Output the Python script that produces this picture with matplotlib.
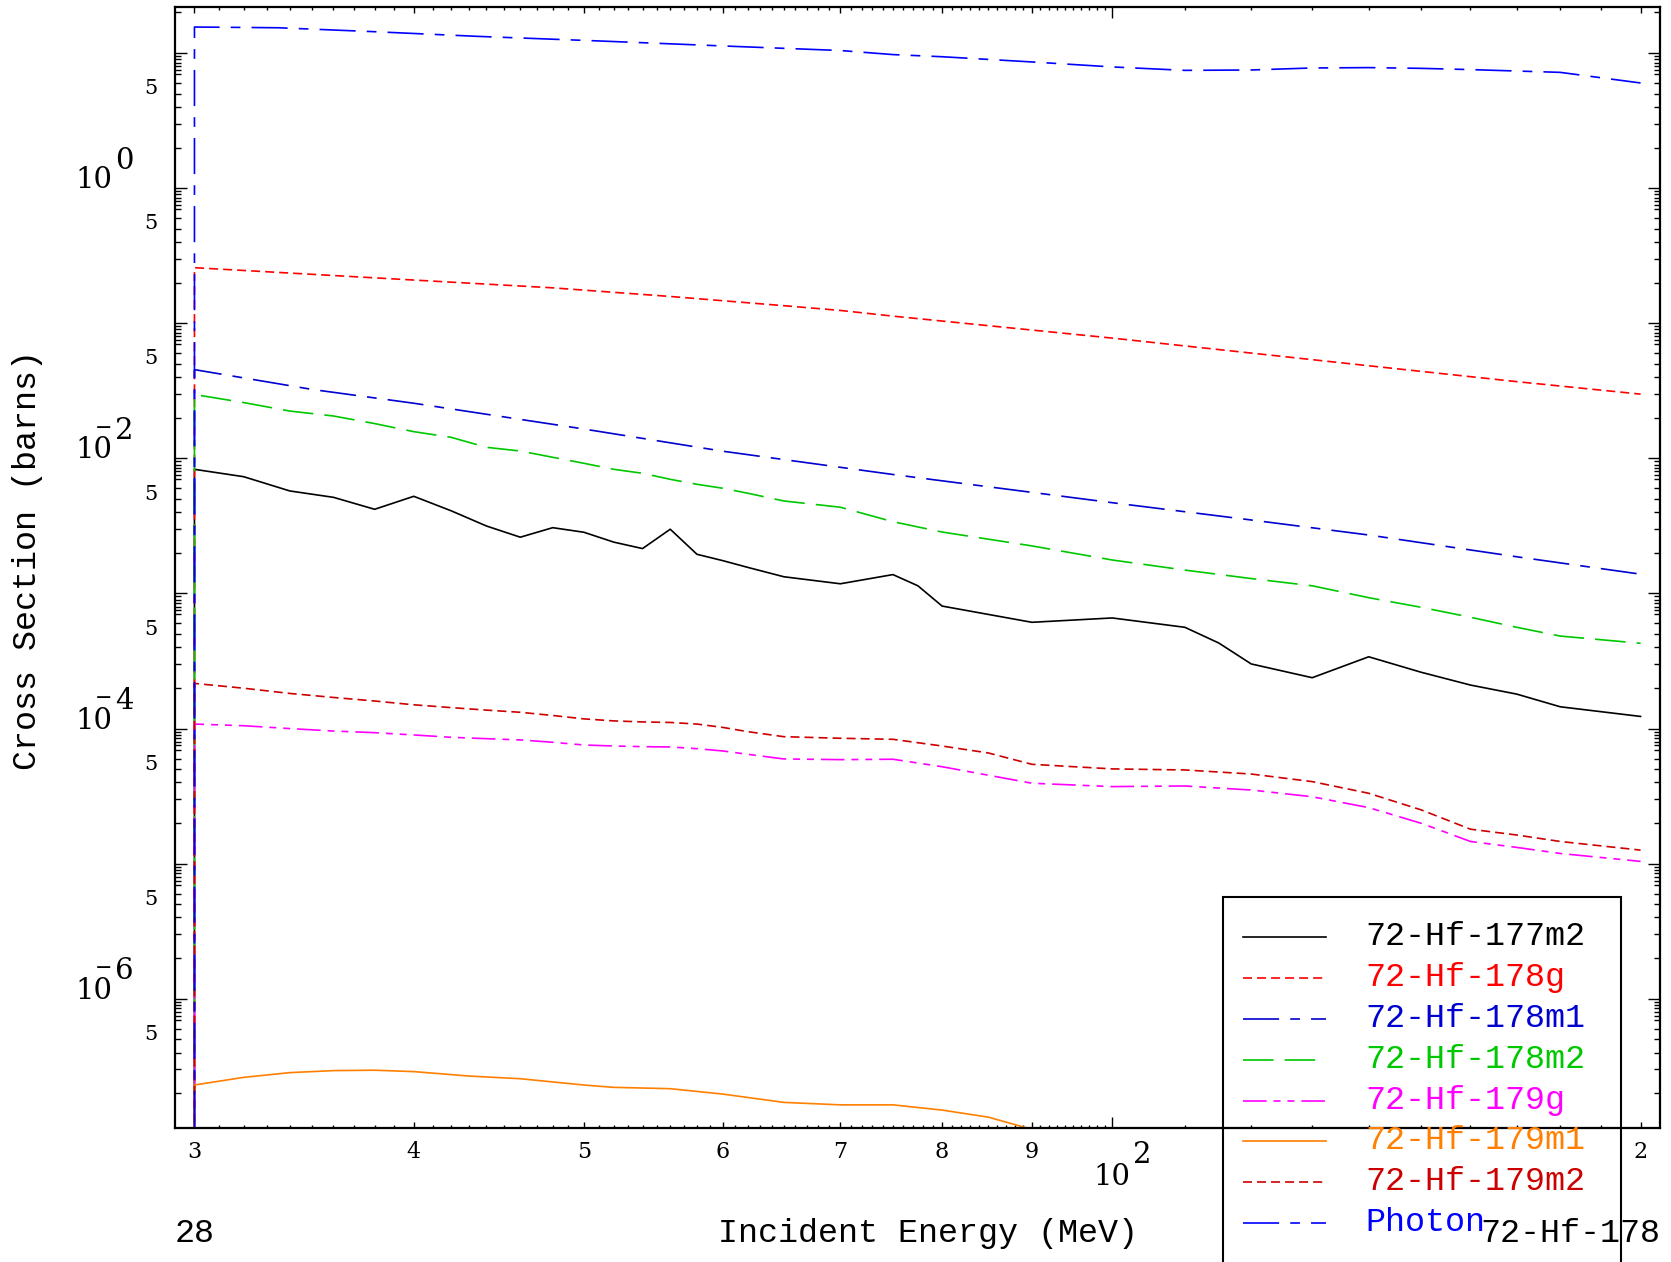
import matplotlib
matplotlib.use('Agg')
import matplotlib.pyplot as plt
from matplotlib.lines import Line2D
from matplotlib.patches import Rectangle
from matplotlib.ticker import FixedLocator, NullFormatter

W, H = 1671, 1262
plt.rcParams['lines.scale_dashes'] = False

MONO = 'Liberation Mono'
SERIF = 'DejaVu Serif'

# ---- data (incident energy in MeV, cross section in barns) ----
THRESHOLD_E = 30.0
FLOOR = 1e-12   # value below the threshold, draws the vertical drop at 30 MeV

e_177m2 = [30, 32, 34, 36, 38, 40, 42, 44, 46, 48, 50, 52, 54, 56, 58, 60, 62, 65, 70, 75, 77.5,
           80, 90, 100, 110, 115, 120, 130, 140, 150, 160, 170, 180, 200]
s_177m2 = [8.30e-3, 7.32e-3, 5.74e-3, 5.15e-3, 4.20e-3, 5.24e-3, 4.10e-3, 3.16e-3, 2.61e-3, 3.07e-3,
           2.84e-3, 2.40e-3, 2.15e-3, 2.99e-3, 1.95e-3, 1.75e-3, 1.56e-3, 1.33e-3, 1.18e-3, 1.38e-3,
           1.14e-3, 8.07e-4, 6.12e-4, 6.59e-4, 5.62e-4, 4.30e-4, 3.01e-4, 2.38e-4, 3.40e-4, 2.61e-4,
           2.10e-4, 1.80e-4, 1.45e-4, 1.23e-4]

e_178g = [30, 40, 48, 56, 65, 70, 75, 100, 120, 140, 170, 200]
s_178g = [0.258, 0.209, 0.183, 0.158, 0.135, 0.1245, 0.113, 0.0777, 0.0602, 0.0485, 0.0370, 0.0299]

e_178m1 = [30, 35, 40, 50, 60, 75, 100, 120, 140, 170, 200]
s_178m1 = [0.0454, 0.0324, 0.0256, 0.0165, 0.0113, 7.6e-3, 4.70e-3, 3.50e-3, 2.71e-3, 1.87e-3, 1.39e-3]

e_178m2 = [30, 32, 34, 36, 38, 40, 42, 44, 46, 48, 50, 52, 54, 56, 58, 60, 62, 65, 70, 75,
           80, 90, 100, 110, 120, 130, 140, 150, 160, 170, 180, 200]
s_178m2 = [0.0297, 0.0259, 0.0224, 0.0206, 0.0181, 0.01577, 0.01433, 0.01208, 0.01134, 0.01019,
           9.20e-3, 8.30e-3, 7.76e-3, 7.00e-3, 6.43e-3, 6.01e-3, 5.52e-3, 4.84e-3, 4.35e-3, 3.40e-3,
           2.85e-3, 2.25e-3, 1.77e-3, 1.49e-3, 1.29e-3, 1.14e-3, 9.31e-4, 7.90e-4, 6.67e-4, 5.62e-4,
           4.84e-4, 4.28e-4]

e_179g = [30, 32, 34, 36, 38, 40, 42, 44, 46, 48, 50, 52, 54, 56, 58, 60, 62, 65, 70, 75,
          80, 90, 100, 110, 120, 130, 140, 150, 160, 170, 180, 200]
s_179g = [1.08e-4, 1.05e-4, 1.00e-4, 9.59e-5, 9.33e-5, 8.97e-5, 8.62e-5, 8.42e-5, 8.24e-5, 7.92e-5,
          7.56e-5, 7.43e-5, 7.35e-5, 7.31e-5, 7.10e-5, 6.83e-5, 6.45e-5, 5.96e-5, 5.89e-5, 5.93e-5,
          5.22e-5, 3.94e-5, 3.72e-5, 3.76e-5, 3.51e-5, 3.13e-5, 2.60e-5, 1.99e-5, 1.46e-5, 1.32e-5,
          1.19e-5, 1.04e-5]

e_179m1 = [30, 32, 34, 36, 38, 40, 43, 46, 50, 52, 56, 60, 65, 70, 75, 80, 85, 90, 100]
s_179m1 = [2.30e-7, 2.62e-7, 2.84e-7, 2.94e-7, 2.96e-7, 2.89e-7, 2.68e-7, 2.56e-7, 2.30e-7, 2.21e-7,
           2.16e-7, 1.97e-7, 1.71e-7, 1.64e-7, 1.64e-7, 1.50e-7, 1.33e-7, 1.08e-7, 7.0e-8]

e_179m2 = [30, 32, 34, 36, 38, 40, 42, 44, 46, 48, 50, 52, 54, 56, 58, 60, 62, 65, 70, 75,
           80, 85, 90, 100, 110, 120, 130, 140, 150, 160, 170, 180, 200]
s_179m2 = [2.16e-4, 1.99e-4, 1.82e-4, 1.70e-4, 1.60e-4, 1.50e-4, 1.43e-4, 1.37e-4, 1.32e-4, 1.25e-4,
           1.18e-4, 1.14e-4, 1.12e-4, 1.11e-4, 1.08e-4, 1.02e-4, 9.49e-5, 8.71e-5, 8.48e-5, 8.33e-5,
           7.43e-5, 6.6e-5, 5.44e-5, 5.03e-5, 4.94e-5, 4.61e-5, 4.05e-5, 3.32e-5, 2.50e-5, 1.80e-5,
           1.63e-5, 1.46e-5, 1.26e-5]

e_photon = [30, 33.5, 38, 43.5, 51, 61, 70, 75, 80, 90, 100, 110, 120, 130, 140, 150, 160, 180, 200]
s_photon = [15.6, 15.4, 14.4, 13.3, 12.3, 11.2, 10.45, 9.75, 9.4, 8.6, 7.9, 7.45, 7.50, 7.76, 7.81,
            7.71, 7.55, 7.20, 6.01]

labels = ['72-Hf-177m2', '72-Hf-178g', '72-Hf-178m1', '72-Hf-178m2',
          '72-Hf-179g', '72-Hf-179m1', '72-Hf-179m2', 'Photon']
energies = [e_177m2, e_178g, e_178m1, e_178m2, e_179g, e_179m1, e_179m2, e_photon]
sigmas = [s_177m2, s_178g, s_178m1, s_178m2, s_179g, s_179m1, s_179m2, s_photon]

x_digit_ticks = [30, 40, 50, 60, 70, 80, 90, 200]
x_digit_labels = ['3', '4', '5', '6', '7', '8', '9', '2']
y_labeled_decades = [0, -2, -4, -6]

# ---- styles ----
colors = ['#000000', '#FF0000', '#0000D0', '#00C800', '#FF00FF', '#FF8000', '#CC0000', '#0000FF']
dash_short = (0, (6.5, 3.6))
dash_dot = (0, (26, 8, 7, 8))
dash_long = (0, (22, 8))
dash_dot_dot = (0, (17, 5, 5, 5, 5, 5))
styles = ['-', dash_short, dash_dot, dash_long, dash_dot_dot, '-', dash_short, dash_dot]
LW = 1.2

fig = plt.figure(figsize=(W / 100, H / 100), dpi=100)
left, right, top, bottom = 174.8, 1660.0, 7.0, 1127.7
ax = fig.add_axes([left / W, 1 - bottom / H, (right - left) / W, (bottom - top) / H])

for e, s, c, st in zip(energies, sigmas, colors, styles):
    ax.plot([THRESHOLD_E] + e, [FLOOR] + s, color=c, linestyle=st, lw=LW)

ax.set_xscale('log')
ax.set_yscale('log')
ax.set_xlim(29.236, 205.16)
ax.set_ylim(1.111e-7, 21.94)

for sp in ax.spines.values():
    sp.set_linewidth(1.6)

# ticks
x_major = [30, 40, 50, 60, 70, 80, 90, 100, 200]
x_minor = [v for v in range(31, 100) if v % 10] + list(range(110, 200, 10))
ax.xaxis.set_major_locator(FixedLocator(x_major))
ax.xaxis.set_minor_locator(FixedLocator(x_minor))
ax.xaxis.set_major_formatter(NullFormatter())
ax.xaxis.set_minor_formatter(NullFormatter())

y_major = [10.0 ** n for n in range(-8, 3)]
y_minor = [k * 10.0 ** n for n in range(-8, 2) for k in (2, 3, 4, 5, 6, 7, 7.5, 8, 8.5, 9, 9.5)]
ax.yaxis.set_major_locator(FixedLocator(y_major))
ax.yaxis.set_minor_locator(FixedLocator(y_minor))
ax.yaxis.set_major_formatter(NullFormatter())
ax.yaxis.set_minor_formatter(NullFormatter())

ax.tick_params(which='both', direction='in', top=True, right=True, width=1.0)
ax.tick_params(axis='x', which='major', length=4.3)
ax.tick_params(axis='x', which='minor', length=2.5)
ax.tick_params(axis='y', which='major', length=8.6)
ax.tick_params(axis='y', which='minor', length=4.3)
for t, v in zip(ax.xaxis.get_major_ticks(), x_major):
    if v == 100:
        t.tick1line.set_markersize(8)
        t.tick2line.set_markersize(8)

# x tick labels
for v, lab in zip(x_digit_ticks, x_digit_labels):
    ax.annotate(lab, xy=(v, 0), xycoords=('data', 'axes fraction'), xytext=(0, -17.5),
                textcoords='offset points', ha='center', va='center', fontsize=16, family=SERIF)
ax.annotate('10', xy=(100, 0), xycoords=('data', 'axes fraction'), xytext=(0, -41),
            textcoords='offset points', ha='center', va='baseline', fontsize=21, family=SERIF)
ax.annotate('2', xy=(100, 0), xycoords=('data', 'axes fraction'), xytext=(15, -25.2),
            textcoords='offset points', ha='left', va='baseline', fontsize=21, family=SERIF)

# y tick labels
for n in y_labeled_decades:
    ax.annotate('10', xy=(0, 10.0 ** n), xycoords=('axes fraction', 'data'), xytext=(-45.2, 0),
                textcoords='offset points', ha='right', va='baseline', fontsize=21, family=SERIF)
    ax.annotate(str(abs(n)), xy=(0, 10.0 ** n), xycoords=('axes fraction', 'data'), xytext=(-43, 14),
                textcoords='offset points', ha='left', va='baseline', fontsize=21, family=SERIF)
    if n < 0:
        ax.annotate('\u2212', xy=(0, 10.0 ** n), xycoords=('axes fraction', 'data'),
                    xytext=(-51.3, 21.6), textcoords='offset points', ha='center', va='center',
                    fontsize=15, family=SERIF)
for n in range(-7, 1):
    ax.annotate('5', xy=(0, 5 * 10.0 ** n), xycoords=('axes fraction', 'data'), xytext=(-12.1, 3.6),
                textcoords='offset points', ha='right', va='center', fontsize=15, family=SERIF)


def fx(px):
    return px / W


def fy(py):
    return 1 - py / H


# axis titles and corner notes
fig.text(fx(27.5), fy(560), 'Cross Section (barns)', rotation=90, ha='center', va='center',
         fontsize=24, family=MONO)
fig.text(fx(928), fy(1242), 'Incident Energy (MeV)', ha='center', va='baseline',
         fontsize=24, family=MONO)
fig.text(fx(175), fy(1242), '28', ha='left', va='baseline', fontsize=24, family=MONO)
fig.text(fx(1660), fy(1242), '72-Hf-178', ha='right', va='baseline', fontsize=24, family=MONO)

# legend box (unfilled, runs off the bottom of the figure)
box_l, box_t, box_r, box_b = 1222.7, 896.7, 1620.7, 1300
fig.add_artist(Rectangle((fx(box_l), fy(box_b)), fx(box_r - box_l), (box_b - box_t) / H,
                         transform=fig.transFigure, fill=False, edgecolor='black', lw=1.5))
row0, row_step = 937.3, 40.8
for i, (lab, c, st) in enumerate(zip(labels, colors, styles)):
    yy = row0 + i * row_step
    fig.add_artist(Line2D([fx(1242.7), fx(1325.7)], [fy(yy), fy(yy)], transform=fig.transFigure,
                          color=c, linestyle=st, lw=LW))
    fig.text(fx(1365.7), fy(yy + 8), lab, color=c, ha='left', va='baseline',
             fontsize=24, family=MONO)

fig.savefig('out.png', dpi=100)
